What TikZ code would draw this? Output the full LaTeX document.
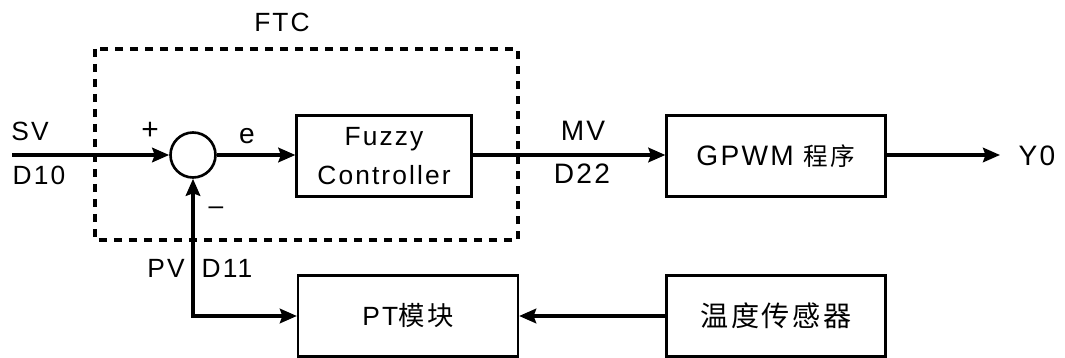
\documentclass[tikz,border=0pt]{standalone}
\usepackage{fontspec}
\setmainfont{Liberation Sans}[LetterSpace=8]
\newfontfamily\cjk{Noto Sans CJK SC}[LetterSpace=10]
\usetikzlibrary{arrows.meta}

\begin{document}
\begin{tikzpicture}[x=0.02cm, y=-0.02cm,
  >={Stealth[length=0.34cm, width=0.29cm, inset=0.05cm]},
  every node/.style={font=\fontsize{15}{18}\selectfont},
  blk/.style={draw, line width=1.3pt, minimum width=#1, minimum height=1.62cm, inner sep=0pt, align=center},
  sig/.style={line width=1.9pt}]
  \useasboundingbox (0,0) rectangle (1065,358);

  % FTC block
  \draw[line width=1.8pt, dash pattern=on 0.16cm off 0.14cm] (95,49) rectangle (518,240);
  \node (ftc) at (282,22) {FTC};

  % forward path
  \coordinate (in) at (12,155);
  \node[draw, circle, line width=1.5pt, minimum size=0.9cm, inner sep=0pt] (sum) at (193,155) {};
  \node[blk=3.5cm, font=\fontsize{15}{22}\selectfont] (fuzzy) at (384,156) {Fuzzy\\Controller};
  \node[blk=4.38cm] (gpwm) at (776,156) {\fontsize{16}{19}\selectfont GPWM {\cjk\fontsize{14}{17}\selectfont 程序}};
  \coordinate (out) at (1000,155);
  \node[font=\fontsize{16}{19}\selectfont] (y0) at (1037,156) {Y0};

  % feedback path
  \node[blk=4.4cm] (pt) at (408,316) {PT{\cjk 模块}};
  \node[blk=4.38cm] (sensor) at (776,316) {{\cjk\fontsize{16}{19}\selectfont 温度传感器}};

  \draw[sig, ->] (in) -- (sum);
  \draw[sig, ->] (sum) -- (fuzzy.west |- sum);
  \draw[sig, ->] (fuzzy.east |- sum) -- (gpwm.west |- sum);
  \draw[sig, ->] (gpwm.east |- sum) -- (out);
  \draw[sig, ->] (sensor) -- (pt);
  \draw[sig, <->] (sum.south) -- (sum |- pt) -- (pt.west);

  % signal labels
  \node (sv) at (30,131) {SV};
  \node (d10) at (39,175) {D10};
  \node[font=\fontsize{17}{20}\selectfont] (plus) at (150,131) {+};
  \node[font=\fontsize{16}{19}\selectfont] (err) at (247,136) {e};
  \node (minus) at (216,211) {--};
  \node (pv) at (166,268) {PV};
  \node (d11) at (227,268) {D11};
  \node[font=\fontsize{16}{19}\selectfont] (mv) at (583,131) {MV};
  \node[font=\fontsize{16}{19}\selectfont] (d22) at (582,174) {D22};
\end{tikzpicture}
\end{document}
